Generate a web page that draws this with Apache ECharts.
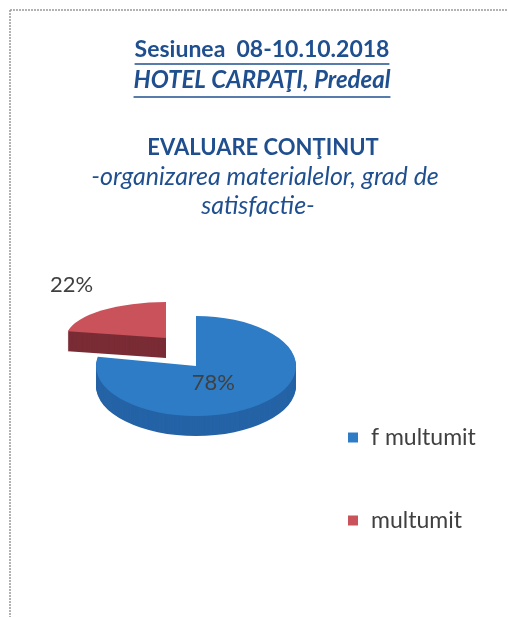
<!DOCTYPE html>
<html>
<head>
<meta charset="utf-8">
<script src="https://cdn.jsdelivr.net/npm/echarts@6/dist/echarts.min.js"></script>
<style>
  html, body { margin: 0; padding: 0; background: #fff; }
  #main { width: 508px; height: 617px; }
</style>
</head>
<body>
<div id="main"></div>
<script>
// data
const categories = ['f multumit', 'multumit'];
const values = [78, 22];
const titleLines = ['Sesiunea  08-10.10.2018', 'HOTEL CARPAŢI, Predeal'];
const subtitleLines = ['EVALUARE CONŢINUT', '-organizarea materialelor, grad de', 'satisfactie-'];

// look
const topColors = ['#2f7cc6', '#c9525b'];
const sideColors = ['#2463a6', '#7a2c35'];
const titleColor = '#1f4f8f';
const FONT = 'Lato, "Open Sans", sans-serif';

const chart = echarts.init(document.getElementById('main'), null, { renderer: 'canvas' });

const cx = 196, cy = 366, R = 100, DEPTH = 20;
// the back slice looks flatter (perspective), so each slice has its own squash
const sliceSY = [0.5, 0.36];
const sliceShift = [[0, 0], [-30, -28]];
const total = values.reduce((a, b) => a + b, 0);
const starts = [];
let acc = 0;
values.forEach(v => { starts.push(acc); acc += v; });

function renderSlice(i) {
  return function (params, api) {
    const v = api.value(0);
    const a0 = -Math.PI / 2 + starts[i] / total * Math.PI * 2;
    const a1 = a0 + v / total * Math.PI * 2;
    const mid = (a0 + a1) / 2;
    const SY = sliceSY[i];
    const ox = cx + sliceShift[i][0];
    const oy = cy + sliceShift[i][1];
    const children = [];
    for (let t = DEPTH; t >= 1; t--) {
      children.push({
        type: 'sector', x: ox, y: oy + t, scaleY: SY,
        shape: { cx: 0, cy: 0, r: R, r0: 0, startAngle: a0, endAngle: a1, clockwise: true },
        style: { fill: sideColors[i] },
        silent: true
      });
    }
    children.push({
      type: 'sector', x: ox, y: oy, scaleY: SY,
      shape: { cx: 0, cy: 0, r: R, r0: 0, startAngle: a0, endAngle: a1, clockwise: true },
      style: { fill: topColors[i] }
    });
    // percent label: inside for big slice, outside for small one
    const lf = i === 0 ? [0.27, 0.44] : [1.48, 1.9];
    children.push({
      type: 'text',
      x: ox + Math.cos(mid) * R * lf[0],
      y: oy + Math.sin(mid) * R * SY * lf[1],
      style: {
        text: Math.round(v / total * 100) + '%',
        font: '22px ' + FONT, fill: '#404040',
        align: 'center', verticalAlign: 'middle'
      }
    });
    return { type: 'group', children: children };
  };
}

// text width for underlines
const measureCtx = document.createElement('canvas').getContext('2d');
function textWidth(txt, font) { measureCtx.font = font; return measureCtx.measureText(txt).width; }

const graphics = [
  { type: 'line', shape: { x1: 10, y1: 10, x2: 508, y2: 10 }, style: { stroke: '#999', lineWidth: 1.5, lineDash: [2, 1] }, silent: true },
  { type: 'line', shape: { x1: 10, y1: 10, x2: 10, y2: 617 }, style: { stroke: '#999', lineWidth: 1.5, lineDash: [2, 1] }, silent: true }
];
const titleFonts = ['bold 23px ' + FONT, 'italic bold 24px ' + FONT];
const titleYs = [50, 80];
const underlineOff = [14, 17];
titleLines.forEach((t, k) => {
  graphics.push({ type: 'text', x: 262, y: titleYs[k], style: { text: t, font: titleFonts[k], fill: titleColor, align: 'center', verticalAlign: 'middle' } });
  const w = textWidth(t, titleFonts[k]);
  graphics.push({ type: 'line', shape: { x1: 262 - w / 2, y1: titleYs[k] + underlineOff[k], x2: 262 + w / 2, y2: titleYs[k] + underlineOff[k] }, style: { stroke: titleColor, lineWidth: 1.5 }, silent: true });
});
const subFonts = ['bold 22px ' + FONT, 'italic 25px ' + FONT, 'italic 25px ' + FONT];
const subYs = [148, 177, 206];
const subXs = [263, 265, 258];
subtitleLines.forEach((t, k) => {
  graphics.push({ type: 'text', x: subXs[k], y: subYs[k], style: { text: t, font: subFonts[k], fill: titleColor, align: 'center', verticalAlign: 'middle' } });
});

const option = {
  animation: false,
  backgroundColor: '#fff',
  graphic: graphics,
  legend: {
    orient: 'vertical',
    left: 343, top: 421,
    itemWidth: 10, itemHeight: 10,
    itemGap: 60,
    icon: 'rect',
    data: categories,
    textStyle: { fontFamily: FONT, fontSize: 23, color: '#404040', lineHeight: 23, padding: [0, 0, 0, 8] }
  },
  series: categories.map((name, i) => ({
    name: name,
    type: 'custom',
    coordinateSystem: 'none',
    itemStyle: { color: topColors[i] },
    data: [[values[i]]],
    renderItem: renderSlice(i)
  }))
};
chart.setOption(option);
</script>
</body>
</html>
